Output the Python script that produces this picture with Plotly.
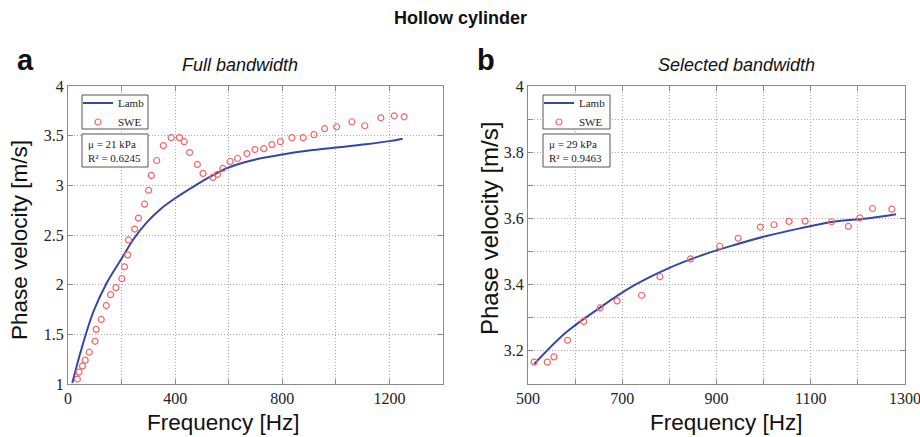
import plotly.graph_objects as go

# ---- Data: panel a (full bandwidth) ----
swe_a_f = [35, 41, 54, 64, 79, 101, 105, 124, 143, 159, 179, 201, 211, 223, 226, 249, 263, 286, 301, 311,
           331, 356, 385, 416, 434, 454, 483, 504, 541, 558, 578, 605, 633, 668, 698, 731, 761, 793, 836,
           878, 918, 958, 1003, 1060, 1108, 1168, 1218, 1255]
swe_a_v = [1.05, 1.12, 1.18, 1.24, 1.32, 1.43, 1.55, 1.65, 1.79, 1.90, 1.97, 2.06, 2.18, 2.30, 2.45, 2.56,
           2.67, 2.81, 2.95, 3.10, 3.25, 3.40, 3.48, 3.48, 3.44, 3.33, 3.21, 3.12, 3.08, 3.11, 3.17, 3.24,
           3.27, 3.32, 3.36, 3.37, 3.41, 3.44, 3.48, 3.48, 3.51, 3.57, 3.59, 3.64, 3.60, 3.68, 3.70, 3.69]
lamb_a_f = [16, 51, 95, 145, 195, 245, 295, 345, 400, 470, 533, 600, 700, 800, 900, 1000, 1100, 1200, 1249]
lamb_a_v = [1.01, 1.36, 1.73, 2.02, 2.24, 2.46, 2.63, 2.76, 2.87, 2.99, 3.09, 3.18, 3.26, 3.31, 3.35, 3.38,
            3.41, 3.445, 3.47]

# ---- Data: panel b (selected bandwidth) ----
swe_b_f = [513, 541, 555, 584, 618, 653, 689, 741, 780, 845, 907, 946, 993, 1022, 1054, 1088, 1144, 1180,
           1204, 1231, 1272]
swe_b_v = [3.166, 3.166, 3.182, 3.232, 3.289, 3.330, 3.351, 3.368, 3.424, 3.478, 3.516, 3.540, 3.574, 3.581,
           3.591, 3.592, 3.590, 3.576, 3.602, 3.630, 3.628]
lamb_b_f = [513, 581, 652, 723, 794, 865, 936, 1006, 1077, 1148, 1219, 1281]
lamb_b_v = [3.160, 3.256, 3.330, 3.396, 3.447, 3.487, 3.519, 3.547, 3.570, 3.590, 3.600, 3.613]

# ---- Text ----
fit_a = "μ = 21 kPa<br>R² = 0.6245"
fit_b = "μ = 29 kPa<br>R² = 0.9463"

W, H = 920, 437
BLUE = "#3447a8"
RED = "#f06868"
SERIF = "Liberation Serif, Times New Roman, serif"
SANS = "Liberation Sans, Arial, sans-serif"
GRID = "#a8a8a8"
FRAME = "#8a8a8a"

fig = go.Figure()
fig.add_trace(go.Scatter(x=lamb_a_f, y=lamb_a_v, mode="lines", name="Lamb",
                         line=dict(color=BLUE, width=2, shape="spline"), xaxis="x", yaxis="y", legend="legend"))
fig.add_trace(go.Scatter(x=swe_a_f, y=swe_a_v, mode="markers", name="SWE",
                         marker=dict(symbol="circle-open", color=RED, size=6, line=dict(width=1.2)),
                         xaxis="x", yaxis="y", legend="legend"))
fig.add_trace(go.Scatter(x=lamb_b_f, y=lamb_b_v, mode="lines", name="Lamb",
                         line=dict(color=BLUE, width=2, shape="spline"), xaxis="x2", yaxis="y2", legend="legend2"))
fig.add_trace(go.Scatter(x=swe_b_f, y=swe_b_v, mode="markers", name="SWE",
                         marker=dict(symbol="circle-open", color=RED, size=6, line=dict(width=1.2)),
                         xaxis="x2", yaxis="y2", legend="legend2"))

def px_x(p):
    return p / W

def px_y(p):
    return 1 - p / H

ax_common = dict(showline=True, linecolor=FRAME, linewidth=1, mirror="ticks",
                 ticks="inside", ticklen=5, tickcolor=FRAME,
                 showgrid=True, gridcolor=GRID, griddash="1px,2px", gridwidth=1,
                 zeroline=False, automargin=False, ticklabeloverflow="allow",
                 tickfont=dict(family=SERIF, size=16, color="#222"))

minor_style = dict(showgrid=True, gridcolor=GRID, griddash="1px,2px",
                   ticks="inside", ticklen=5, tickcolor=FRAME)

xd1 = [px_x(68), px_x(443)]
xd2 = [px_x(528), px_x(905)]
yd = [px_y(384), px_y(86)]

leg_common = dict(xanchor="left", yanchor="top", borderwidth=0, bgcolor="rgba(0,0,0,0)",
                  font=dict(family=SERIF, size=11, color="#222"), itemwidth=30, tracegroupgap=0)

fig.update_layout(
    width=W, height=H, autosize=False, margin=dict(l=0, r=0, t=0, b=0, pad=0),
    paper_bgcolor="white", plot_bgcolor="white",
    xaxis=dict(domain=xd1, range=[0, 1400], dtick=400, tick0=0, anchor="y",
               minor=dict(dtick=200, **minor_style), **ax_common),
    yaxis=dict(domain=yd, range=[1, 4], dtick=0.5, tick0=1, anchor="x", **ax_common),
    xaxis2=dict(domain=xd2, range=[500, 1300], dtick=200, tick0=500, anchor="y2",
                minor=dict(dtick=100, **minor_style), **ax_common),
    yaxis2=dict(domain=yd, range=[3.1, 4.0], dtick=0.2, tick0=3.2, anchor="x2",
                minor=dict(dtick=0.1, **minor_style), **ax_common),
    legend=dict(x=px_x(78), y=px_y(88.5), **leg_common),
    legend2=dict(x=px_x(539), y=px_y(88.5), **leg_common),
    showlegend=True,
)

# Legend frames and fit-result frames (white boxes with dark border)
for (x0, x1) in [(82, 148), (543, 610)]:
    for (y0, y1) in [(95, 129), (134, 167)]:
        fig.add_shape(type="rect", xref="paper", yref="paper",
                      x0=px_x(x0), x1=px_x(x1), y0=px_y(y1), y1=px_y(y0),
                      line=dict(color="#555", width=1), fillcolor="white", layer="above")

ann = []
def add_text(text, x, y, size, family=SANS, angle=0, color="#111", **kw):
    d = dict(text=text, x=px_x(x), y=px_y(y), xref="paper", yref="paper", showarrow=False,
             font=dict(family=family, size=size, color=color), xanchor="center", yanchor="middle",
             textangle=angle)
    d.update(kw)
    ann.append(d)

add_text("<b>Hollow cylinder</b>", 460, 18, 18)
add_text("<b>a</b>", 25, 60, 29)
add_text("<b>b</b>", 486, 60, 29)
add_text("<i>Full bandwidth</i>", 240, 64.5, 18)
add_text("<i>Selected bandwidth</i>", 736, 64.5, 18)
add_text("Frequency [Hz]", 223, 422.5, 22.5)
add_text("Frequency [Hz]", 726, 422.5, 22.5)
add_text("Phase velocity [m/s]", 19, 240, 22.5, angle=-90)
add_text("Phase velocity [m/s]", 489, 229, 24, angle=-90)
add_text(fit_a, 86, 150.5, 11, family=SERIF, color="#222", xanchor="left", align="left")
add_text(fit_b, 547, 150.5, 11, family=SERIF, color="#222", xanchor="left", align="left")
fig.update_layout(annotations=ann)

fig.write_html("out.html", config={"displayModeBar": False},
               post_script="document.body.style.margin='0';document.body.style.padding='0';")
